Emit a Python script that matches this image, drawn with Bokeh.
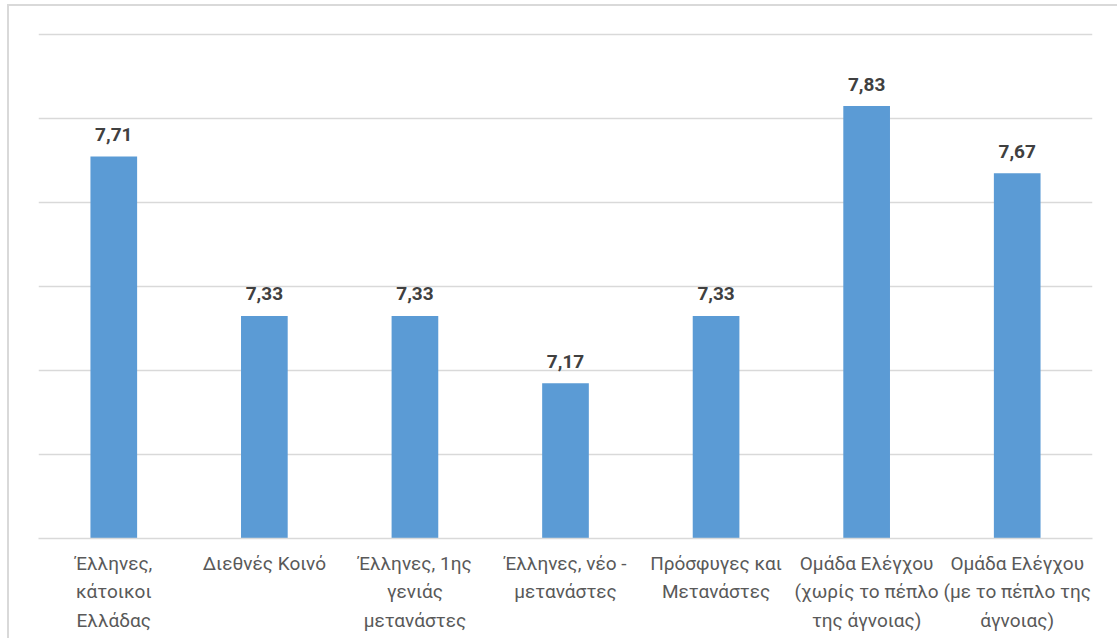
from bokeh.plotting import figure
from bokeh.models import Range1d, FixedTicker, ColumnDataSource
from bokeh.core.properties import value
from bokeh.embed import file_html
from bokeh.resources import INLINE

categories = [
    "Έλληνες,\nκάτοικοι\nΕλλάδας",
    "Διεθνές Κοινό",
    "Έλληνες, 1ης\nγενιάς\nμετανάστες",
    "Έλληνες, νέο -\nμετανάστες",
    "Πρόσφυγες και\nΜετανάστες",
    "Ομάδα Ελέγχου\n(χωρίς το πέπλο\nτης άγνοιας)",
    "Ομάδα Ελέγχου\n(με το πέπλο της\nάγνοιας)",
]
values = [7.71, 7.33, 7.33, 7.17, 7.33, 7.83, 7.67]
labels = [f"{v:.2f}".replace(".", ",") for v in values]
grid_ticks = [6.8, 7.0, 7.2, 7.4, 7.6, 7.8, 8.0]

FONT = "Roboto"

src = ColumnDataSource(dict(cat=categories, val=values, lab=labels))

p = figure(
    x_range=categories,
    y_range=Range1d(6.8, 8.01),
    frame_width=1054, frame_height=508,
    output_backend="svg", toolbar_location=None,
    y_axis_location=None,
    min_border_left=29, min_border_right=25,
    min_border_top=24, min_border_bottom=100,
)
p.outline_line_color = None
p.background_fill_color = "white"
p.border_fill_color = "white"
p.styles = {
    "margin-left": "7px", "margin-top": "4px",
    "border-top": "2px solid #d9d9d9", "border-left": "2px solid #d9d9d9",
}

p.vbar(x="cat", top="val", bottom=6.8, width=0.31, source=src,
       fill_color="#5B9BD5", line_color=None)

p.text(x="cat", y="val", text="lab", source=src,
       text_align="center", text_baseline="alphabetic", y_offset=-22,
       text_font=value(FONT), text_font_style="bold",
       text_font_size="19px", text_color="#404040")

p.xgrid.grid_line_color = None
p.ygrid.ticker = FixedTicker(ticks=grid_ticks)
p.ygrid.grid_line_color = "#d9d9d9"
p.ygrid.grid_line_width = 1.5

ax = p.xaxis[0]
ax.axis_line_color = "#d9d9d9"
ax.axis_line_width = 1.5
ax.major_tick_line_color = None
ax.minor_tick_line_color = None
ax.major_label_text_font = FONT
ax.major_label_text_font_size = "19px"
ax.major_label_text_color = "#595959"
ax.major_label_standoff = 7
ax.major_label_text_line_height = 1.25

open("out.html", "w").write(file_html(p, INLINE))
